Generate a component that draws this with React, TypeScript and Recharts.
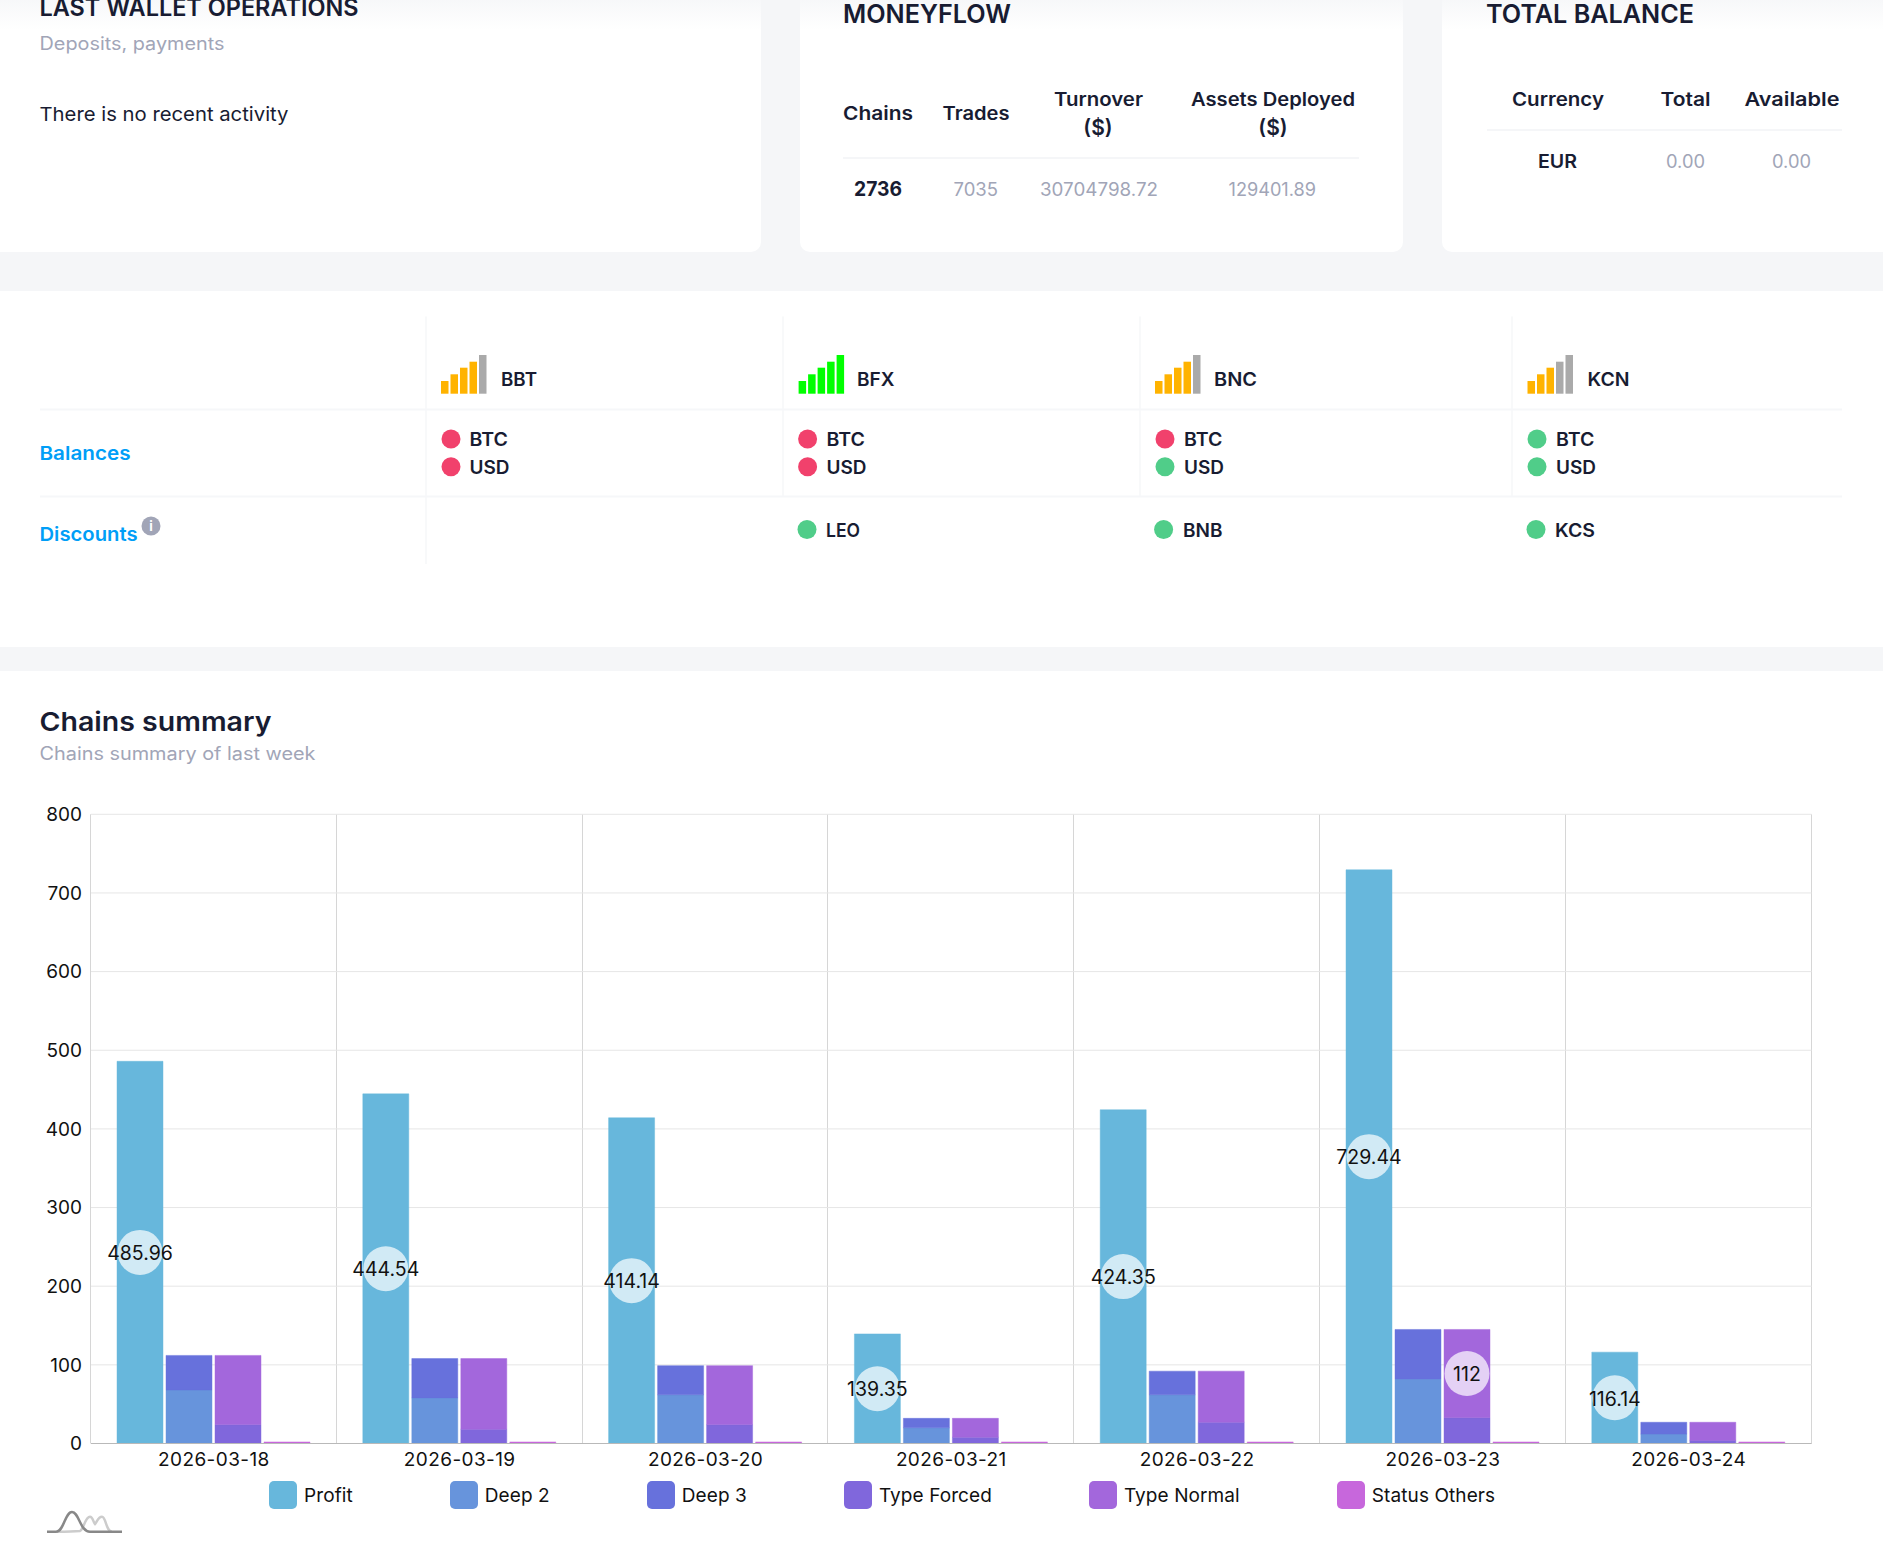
import React from "react";
import { BarChart, Bar, XAxis, YAxis, CartesianGrid, Legend, LabelList } from "recharts";

const days = ["2026-03-18", "2026-03-19", "2026-03-20", "2026-03-21", "2026-03-22", "2026-03-23", "2026-03-24"];
const profit = [485.96, 444.54, 414.14, 139.35, 424.35, 729.44, 116.14];
const deep2 = [68, 58, 62, 20, 62, 82, 12];
const deep3 = [44, 50, 37, 12, 30, 63, 15];
const typeForced = [24, 18, 24, 8, 27, 33, 4];
const typeNormal = [88, 90, 75, 24, 65, 112, 23];
const statusOthers = [2, 2, 2, 2, 2, 2, 2];
const yTicks = [0, 100, 200, 300, 400, 500, 600, 700, 800];

const chartData = days.map((day, i) => ({
  day,
  profit: profit[i],
  deep2: deep2[i],
  deep3: deep3[i],
  typeForced: typeForced[i],
  typeNormal: typeNormal[i],
  statusOthers: statusOthers[i],
}));

const exchanges = ["BBT", "BFX", "BNC", "KCN"];
const signalLevels = [4, 5, 4, 3];
const btcOk = [false, false, false, true];
const usdOk = [false, false, true, true];
const discounts = ["", "LEO", "BNB", "KCS"];

const INK = "#181c32";
const GRAY = "#a1a5b7";
const BLUE = "#009ef7";
const RED = "#f1416c";
const GREEN = "#50cd89";
const FONT = "Inter, sans-serif";

type TP = { x: number; y: number; w?: number; s?: number; b?: number; c?: string; mid?: boolean; children: any };
function T({ x, y, w, s = 18, b = 500, c = INK, mid, children }: TP) {
  return (
    <text
      x={x}
      y={y}
      textAnchor={mid ? "middle" : "start"}
      dominantBaseline="central"
      fontFamily={FONT}
      fontSize={s}
      fontWeight={b}
      fill={c}
      textLength={w}
      lengthAdjust={w ? "spacingAndGlyphs" : undefined}
    >
      {children}
    </text>
  );
}

function Signal({ x, level }: { x: number; level: number }) {
  const on = level === 5 ? "#00ff00" : "#ffb300";
  const heights = [12.7, 19.4, 26, 32, 38.7];
  return (
    <g>
      {heights.map((h, i) => (
        <rect key={i} x={x + i * 9.5} y={393.7 - h} width={7.5} height={h} fill={i < level ? on : "#aaaaaa"} />
      ))}
    </g>
  );
}

function Bubble(props: any) {
  const { x, y, width, height, value, min = 0 } = props;
  if (value < min) return null;
  const cx = x + width / 2;
  const cy = y + height / 2;
  return (
    <g>
      <circle cx={cx} cy={cy} r={22.5} fill="#fff" fillOpacity={0.7} />
      <text x={cx} y={cy + 0.7} textAnchor="middle" dominantBaseline="central" fontFamily={FONT} fontSize={19.5} fill="#111">
        {value}
      </text>
    </g>
  );
}

function ChainLegend({ payload }: any) {
  return (
    <div style={{ display: "flex", paddingLeft: 269, fontFamily: FONT, fontSize: 19, letterSpacing: 0.09, color: "#111", height: 28, alignItems: "center" }}>
      {(payload || []).map((it: any) => (
        <div key={it.value} style={{ display: "flex", alignItems: "center", marginRight: 97 }}>
          <div style={{ width: 28, height: 28, borderRadius: 5, background: it.color, marginRight: 7 }} />
          <span style={{ position: "relative", top: 1 }}>{it.value}</span>
        </div>
      ))}
    </div>
  );
}

const strokeProps = { strokeOpacity: 0.45, strokeWidth: 1, isAnimationActive: false } as const;

export default function App() {
  const colX = [441, 798.6, 1155, 1527.5];
  const nameX: [number, number][] = [[501, 36], [857, 37.5], [1214, 43], [1587.5, 42]];
  const dotX = [451, 807.6, 1165, 1537];
  const txtX = [469.5, 826.5, 1184, 1556];
  const dotDisc = [0, 807, 1163.6, 1536];
  const discX: [number, number][] = [[0, 0], [826, 34], [1183, 39.5], [1555, 40]];
  return (
    <div style={{ position: "absolute", left: 0, top: 0, width: 1883, height: 1542, overflow: "hidden", background: "#f5f6f8" }}>
      <div style={{ position: "absolute", left: 0, top: 0, width: 761, height: 252, background: "#fff", borderBottomRightRadius: 10 }} />
      <div style={{ position: "absolute", left: 800, top: 0, width: 603, height: 252, background: "#fff", borderBottomLeftRadius: 10, borderBottomRightRadius: 10 }} />
      <div style={{ position: "absolute", left: 1442, top: 0, width: 441, height: 252, background: "#fff", borderBottomLeftRadius: 10 }} />
      <div style={{ position: "absolute", left: 0, top: 291, width: 1883, height: 356, background: "#fff" }} />
      <div style={{ position: "absolute", left: 0, top: 671, width: 1883, height: 871, background: "#fff" }} />
      <div style={{ position: "absolute", left: 0, top: 0, width: 1883, height: 30, background: "linear-gradient(#f5f6f8cc, #f5f6f800)" }} />

      <svg width={1883} height={790} style={{ position: "absolute", left: 0, top: 0 }}>
        <T x={39.5} y={7} w={319} s={24} b={600}>LAST WALLET OPERATIONS</T>
        <T x={39.5} y={43.5} w={185} s={18} b={400} c={GRAY}>Deposits, payments</T>
        <T x={39.5} y={114.5} w={249} s={19} b={400}>There is no recent activity</T>

        <T x={843} y={13.5} w={168} s={26} b={600}>MONEYFLOW</T>
        <T x={843} y={113} w={70} s={18.5} b={600}>Chains</T>
        <T x={942.5} y={113} w={67} s={18.5} b={600}>Trades</T>
        <T x={1054} y={99.3} w={89} s={18.5} b={600}>Turnover</T>
        <T x={1098} y={127} s={21} b={600} mid>($)</T>
        <T x={1191} y={99.3} w={164} s={18.5} b={600}>Assets Deployed</T>
        <T x={1273} y={127} s={21} b={600} mid>($)</T>
        <rect x={843} y={157} width={516} height={2} fill="#f5f6f8" />
        <T x={854} y={189.4} w={48} s={20} b={700}>2736</T>
        <T x={953.5} y={189.4} w={44.5} s={18} b={400} c={GRAY}>7035</T>
        <T x={1040} y={189.4} w={118} s={18} b={400} c={GRAY}>30704798.72</T>
        <T x={1228.5} y={189.4} w={87.5} s={18} b={400} c={GRAY}>129401.89</T>

        <T x={1486} y={13.5} w={208} s={26} b={600}>TOTAL BALANCE</T>
        <T x={1512} y={99.3} w={92} s={18.5} b={600}>Currency</T>
        <T x={1660.5} y={99.3} w={50} s={18.5} b={600}>Total</T>
        <T x={1744.5} y={99.3} w={95} s={18.5} b={600}>Available</T>
        <rect x={1487} y={129} width={355} height={2} fill="#f5f6f8" />
        <T x={1538} y={160.8} w={39} s={18.5} b={600}>EUR</T>
        <T x={1666} y={161.2} w={39} s={18} b={400} c={GRAY}>0.00</T>
        <T x={1772} y={161.2} w={39} s={18} b={400} c={GRAY}>0.00</T>

        {[426, 783, 1140, 1512].map((x) => (
          <rect key={x} x={x - 1} y={316.5} width={2} height={x === 426 ? 247.5 : 180} fill="#f8f9fa" />
        ))}
        <rect x={40} y={408.5} width={1802} height={2} fill="#f6f7f9" />
        <rect x={40} y={495.5} width={1802} height={2} fill="#f6f7f9" />

        {exchanges.map((name, i) => (
          <g key={name}>
            <Signal x={colX[i]} level={signalLevels[i]} />
            <T x={nameX[i][0]} y={379} w={nameX[i][1]} s={18.5} b={600}>{name}</T>
            <circle cx={dotX[i]} cy={439} r={9.5} fill={btcOk[i] ? GREEN : RED} />
            <T x={txtX[i]} y={439} w={38.5} s={18.5} b={600}>BTC</T>
            <circle cx={dotX[i]} cy={466.8} r={9.5} fill={usdOk[i] ? GREEN : RED} />
            <T x={txtX[i]} y={466.8} w={40} s={18.5} b={600}>USD</T>
            {discounts[i] ? (
              <g>
                <circle cx={dotDisc[i]} cy={529.5} r={9.5} fill={GREEN} />
                <T x={discX[i][0]} y={529.5} w={discX[i][1]} s={18.5} b={600}>{discounts[i]}</T>
              </g>
            ) : null}
          </g>
        ))}
        <T x={39.5} y={453.7} w={91} s={19} b={600} c={BLUE}>Balances</T>
        <T x={39.5} y={534.5} w={98} s={19} b={600} c={BLUE}>Discounts</T>
        <circle cx={151} cy={526} r={9.5} fill={GRAY} />
        <T x={151} y={526} s={13} b={700} c="#fff" mid>i</T>

        <T x={39.5} y={721.7} w={232} s={26} b={600}>Chains summary</T>
        <T x={39.5} y={753} w={276} s={18} b={400} c={GRAY}>Chains summary of last week</T>
      </svg>

      <div style={{ position: "absolute", left: 0, top: 790 }}>
        <BarChart
          width={1883}
          height={752}
          data={chartData}
          margin={{ top: 24.3, right: 71.4, bottom: 0, left: 0 }}
          barCategoryGap={26}
          barGap={3}
        >
          <CartesianGrid
            horizontal={false}
            stroke="#d6d6d6"
            verticalCoordinatesGenerator={({ offset }: any) =>
              [0, 1, 2, 3, 4, 5, 6, 7].map((k) => Math.round(offset.left + (k * offset.width) / days.length) - 0.5)
            }
          />
          <CartesianGrid vertical={false} stroke="#e6e6e6" />
          <XAxis
            dataKey="day"
            height={37}
            tickSize={0}
            tickMargin={9.5}
            interval={0}
            axisLine={{ stroke: "#b9b9b9" }}
            tick={{ fontFamily: FONT, fontSize: 19, letterSpacing: 0.4, fill: "#111" }}
          />
          <YAxis
            width={91}
            domain={[0, 800]}
            ticks={yTicks}
            tickSize={0}
            tickMargin={9}
            axisLine={false}
            tick={{ fontFamily: FONT, fontSize: 19, fill: "#111" }}
          />
          <Legend
            verticalAlign="bottom"
            height={61.5}
            itemSorter={null}
            wrapperStyle={{ left: 0, width: 1883 }}
            content={(p: any) => <ChainLegend payload={p.payload} />}
          />
          <Bar dataKey="profit" name="Profit" stackId="a" fill="#67b7dc" stroke="#67b7dc" {...strokeProps}>
            <LabelList dataKey="profit" content={(p: any) => <Bubble {...p} />} />
          </Bar>
          <Bar dataKey="deep2" name="Deep 2" stackId="b" fill="#6794dc" stroke="#6794dc" {...strokeProps} />
          <Bar dataKey="deep3" name="Deep 3" stackId="b" fill="#6771dc" stroke="#6771dc" {...strokeProps} />
          <Bar dataKey="typeForced" name="Type Forced" stackId="c" fill="#8067dc" stroke="#8067dc" {...strokeProps} />
          <Bar dataKey="typeNormal" name="Type Normal" stackId="c" fill="#a367dc" stroke="#a367dc" {...strokeProps}>
            <LabelList dataKey="typeNormal" content={(p: any) => <Bubble {...p} min={100} />} />
          </Bar>
          <Bar dataKey="statusOthers" name="Status Others" stackId="d" fill="#c767dc" stroke="#c767dc" {...strokeProps} />
        </BarChart>
      </div>

      <svg width={130} height={40} style={{ position: "absolute", left: 0, top: 1502 }}>
        <path d="M57 29.7 C68 29.7 72 29.7 80 29 C84 27 85 14.7 90 14.7 C93 14.7 93 20 95 22 C97 20 98 14.7 102 14.7 C106 14.7 106 29.7 112 29.7" fill="none" stroke="#cccccc" strokeWidth={2.5} />
        <path d="M47 29.7 L56 29.7 C64 29.7 65 10 72 10 C79 10 80 29.7 90 29.7 L122 29.7" fill="none" stroke="#888888" strokeWidth={2.5} />
      </svg>
    </div>
  );
}
